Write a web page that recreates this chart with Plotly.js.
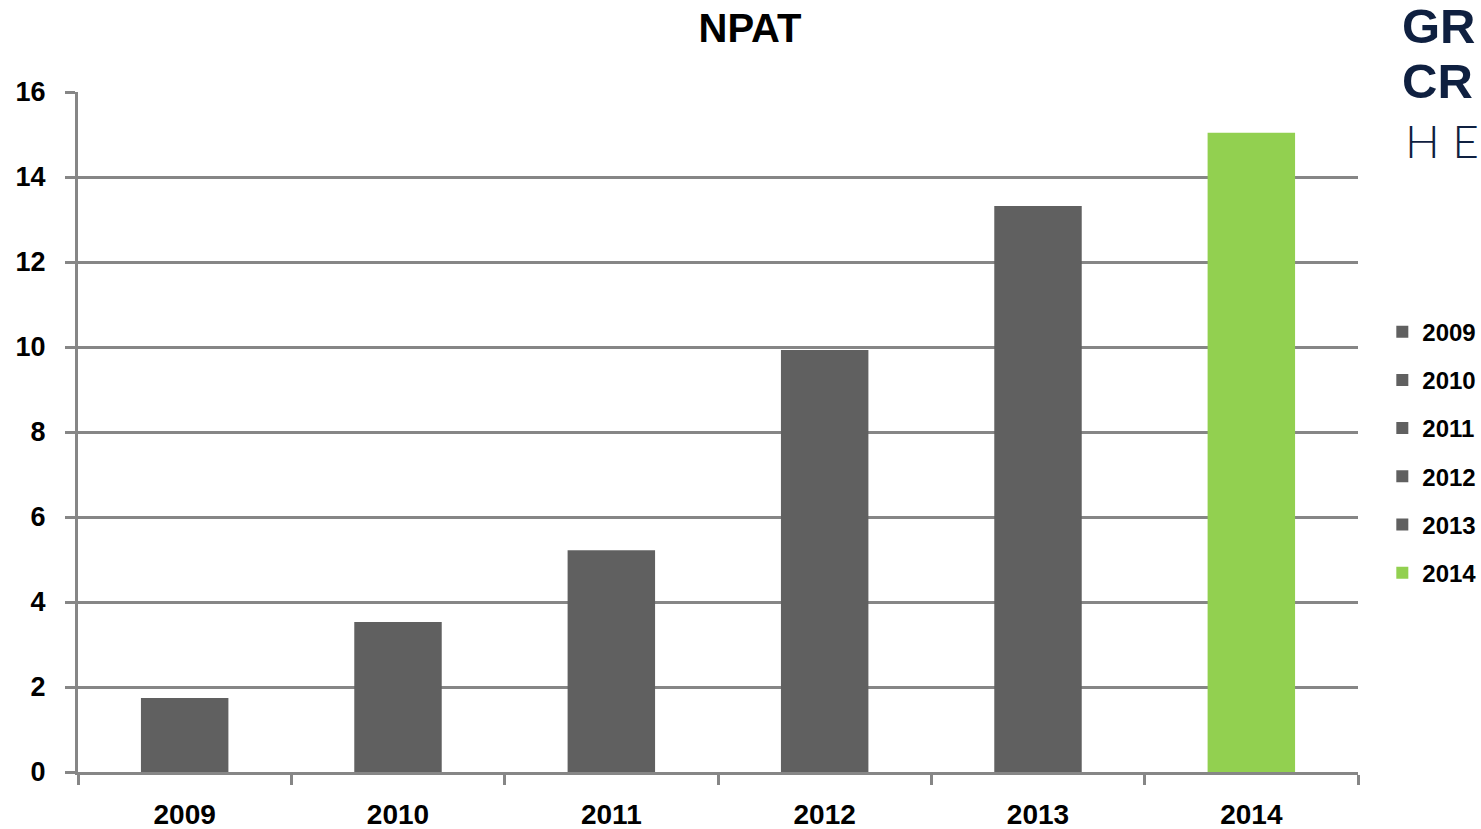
<!DOCTYPE html>
<html>
<head>
<meta charset="utf-8">
<script src="https://cdn.plot.ly/plotly-3.0.1.min.js"></script>
<style>html,body{margin:0;padding:0;background:#fff;overflow:hidden}#chart{width:1481px;height:829px}</style>
</head>
<body>
<div id="chart"></div>
<script>
const years = ['2009', '2010', '2011', '2012', '2013', '2014'];
const npat = [1.74, 3.53, 5.22, 9.93, 13.32, 15.04];
const barColors = ['#606060', '#606060', '#606060', '#606060', '#606060', '#92d050'];
const yTicks = [0, 2, 4, 6, 8, 10, 12, 14, 16];
const logoLines = ['GR', 'CR', 'H E'];

const traces = years.map((yr, i) => ({
  type: 'bar',
  x: [yr],
  y: [npat[i]],
  name: yr,
  legendgroup: yr,
  marker: {color: barColors[i], line: {width: 0}},
  hoverinfo: 'x+y'
}));

const layout = {
  width: 1481, height: 829,
  margin: {l: 78, r: 123, t: 92, b: 57, autoexpand: false},
  paper_bgcolor: '#ffffff', plot_bgcolor: '#ffffff',
  barmode: 'overlay',
  bargap: 0.59,
  font: {family: 'Liberation Sans, Arial, sans-serif', color: '#000'},
  title: {text: '<b>NPAT</b>', font: {size: 40, family: 'Liberation Sans, Arial, sans-serif', color: '#000'},
          x: 0.525, xref: 'paper', xanchor: 'center', y: 0.966, yanchor: 'middle'},
  xaxis: {
    type: 'category', categoryorder: 'array', categoryarray: years,
    showline: true, linecolor: '#868686', linewidth: 3,
    ticks: 'outside', tickson: 'boundaries', ticklen: 10, tickwidth: 3, tickcolor: '#868686',
    showgrid: false, zeroline: false,
    tickfont: {size: 28, family: 'Liberation Sans, Arial, sans-serif', color: '#000', weight: 'bold'},
    ticklabelstandoff: 15
  },
  yaxis: {
    range: [0, 16], tickvals: yTicks, ticktext: yTicks.map(String),
    showline: true, linecolor: '#868686', linewidth: 3,
    ticks: 'outside', ticklen: 10, tickwidth: 3, tickcolor: '#868686',
    showgrid: true, gridcolor: '#868686', gridwidth: 3,
    zeroline: false,
    tickfont: {size: 27, family: 'Liberation Sans, Arial, sans-serif', color: '#000', weight: 'bold'},
    ticklabelstandoff: 14
  },
  showlegend: true,
  legend: {
    x: 1.019, xanchor: 'left', y: 0.68, yanchor: 'top',
    traceorder: 'grouped', tracegroupgap: 14,
    font: {size: 24, family: 'Liberation Sans, Arial, sans-serif', color: '#000', weight: 'bold'},
    itemwidth: 30, bgcolor: 'rgba(0,0,0,0)'
  },
  annotations: [
    {text: '<b>' + logoLines[0] + '</b>', xref: 'paper', yref: 'paper', x: 1.033, y: 1.097, xanchor: 'left', yanchor: 'middle',
     showarrow: false, font: {size: 49, family: 'Liberation Sans, Arial, sans-serif', color: '#0f2040'}},
    {text: '<b>' + logoLines[1] + '</b>', xref: 'paper', yref: 'paper', x: 1.033, y: 1.016, xanchor: 'left', yanchor: 'middle',
     showarrow: false, font: {size: 49, family: 'Liberation Sans, Arial, sans-serif', color: '#0f2040'}},
    {text: logoLines[2], xref: 'paper', yref: 'paper', x: 1.035, y: 0.929, xanchor: 'left', yanchor: 'middle',
     showarrow: false, font: {size: 46, family: 'Lato, Roboto, sans-serif', color: '#0f2040', weight: 300}}
  ]
};

Plotly.newPlot('chart', traces, layout, {displayModeBar: false, responsive: false});
</script>
</body>
</html>
